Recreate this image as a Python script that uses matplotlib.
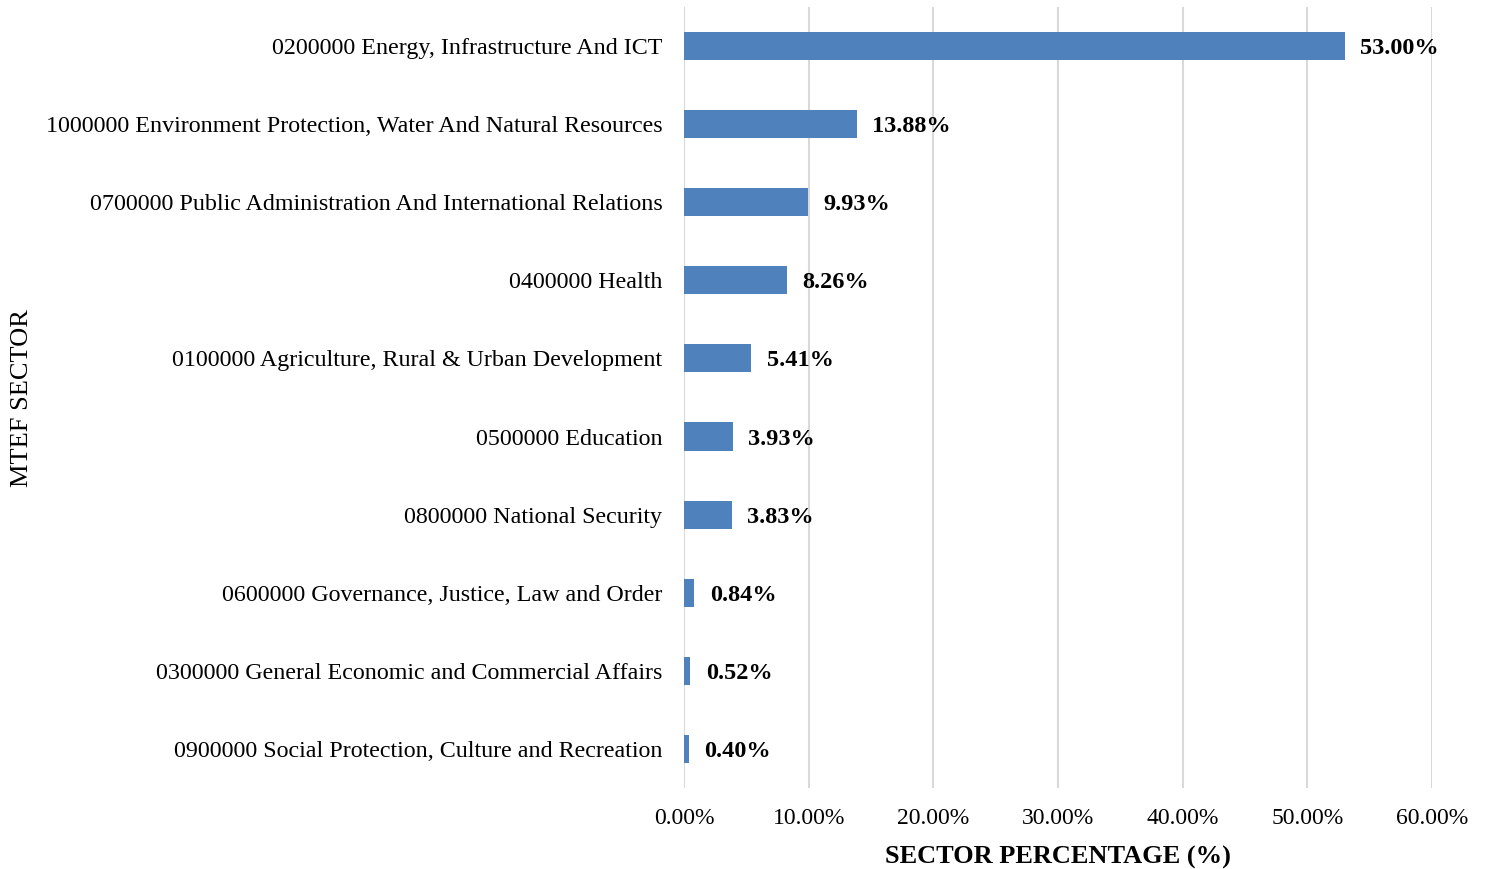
import matplotlib.pyplot as plt
from matplotlib.ticker import FuncFormatter

plt.rcParams['font.family'] = ['Liberation Serif', 'DejaVu Serif']

# sectors, top to bottom
sectors = [
    "0200000 Energy, Infrastructure And ICT",
    "1000000 Environment Protection, Water And Natural Resources",
    "0700000 Public Administration And International Relations",
    "0400000 Health",
    "0100000 Agriculture, Rural & Urban Development",
    "0500000 Education",
    "0800000 National Security",
    "0600000 Governance, Justice, Law and Order",
    "0300000 General Economic and Commercial Affairs",
    "0900000 Social Protection, Culture and Recreation",
]
shares = [53.00, 13.88, 9.93, 8.26, 5.41, 3.93, 3.83, 0.84, 0.52, 0.40]

fig = plt.figure(figsize=(14.85, 8.69), dpi=100)
ax = fig.add_axes([0.4606, 0.0932, 0.5037, 0.8988])

pos = list(range(len(sectors)))[::-1]
ax.barh(pos, shares, height=0.36, color='#4F81BD', zorder=3)

for p, v in zip(pos, shares):
    ax.annotate(f"{v:.2f}%", (v, p), xytext=(11, 0), textcoords='offset points',
                ha='left', va='center_baseline', fontsize=17.5, fontweight='bold', zorder=4)

ax.set_xlim(0, 60)
ax.set_ylim(-0.5, len(sectors) - 0.5)
ax.set_xticks(range(0, 61, 10))
ax.xaxis.set_major_formatter(FuncFormatter(lambda x, _: f"{x:.2f}%"))
ax.set_yticks(pos)
ax.set_yticklabels(sectors)
ax.tick_params(axis='both', length=0)
ax.tick_params(axis='x', pad=14.5, labelsize=17)
ax.tick_params(axis='y', pad=15.5, labelsize=17.3)
ax.grid(axis='x', color='#D9D9D9', linewidth=1.5, zorder=0)
for s in ax.spines.values():
    s.set_visible(False)

ax.set_xlabel("SECTOR PERCENTAGE (%)", fontsize=19, fontweight='bold', labelpad=12)
fig.text(0.0145, 0.542, "MTEF SECTOR", rotation=90, ha='center', va='center', fontsize=19)

fig.savefig("out.png", dpi=100)
